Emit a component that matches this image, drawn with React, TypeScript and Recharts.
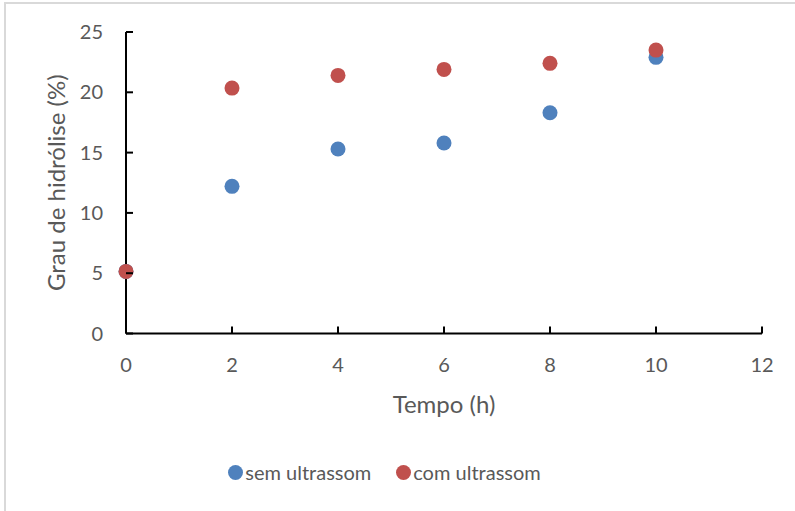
import { ScatterChart, Scatter, XAxis, YAxis, Legend } from "recharts";

const tempo = [0, 2, 4, 6, 8, 10];
const semUltrassom = [5.15, 12.2, 15.3, 15.8, 18.3, 22.9];
const comUltrassom = [5.15, 20.35, 21.4, 21.9, 22.4, 23.5];
const xTicks = [0, 2, 4, 6, 8, 10, 12];
const yTicks = [0, 5, 10, 15, 20, 25];

const semData = tempo.map((t, i) => ({ x: t, y: semUltrassom[i] }));
const comData = tempo.map((t, i) => ({ x: t, y: comUltrassom[i] }));

const FONT = "Lato, 'Open Sans', sans-serif";
const GREY = "#595959";
const BLUE = "#4F81BD";
const RED = "#C0504D";

const XTick = (props: any) => {
    const { x, y, payload } = props;
    return (
        <g>
            <line x1={x} y1={y} x2={x} y2={y - 7} stroke="#000" strokeWidth={2} />
            <text x={x} y={y + 38} textAnchor="middle" fill={GREY} fontSize={20} fontFamily={FONT}>
                {payload.value}
            </text>
        </g>
    );
};

const YTick = (props: any) => {
    const { x, y, payload } = props;
    return (
        <g>
            <line x1={x} y1={y} x2={x + 7} y2={y} stroke="#000" strokeWidth={2} />
            <text x={x - 23} y={y + 7} textAnchor="end" fill={GREY} fontSize={20} fontFamily={FONT}>
                {payload.value}
            </text>
        </g>
    );
};

const dot = (color: string) => (p: any) => <circle cx={p.cx} cy={p.cy} r={7.5} fill={color} />;

const LegendBox = () => (
    <div
        style={{
            display: "flex",
            justifyContent: "center",
            gap: 25,
            paddingRight: 26,
            fontFamily: FONT,
            fontSize: 20,
            color: GREY,
        }}
    >
        {[
            { name: "sem ultrassom", color: BLUE },
            { name: "com ultrassom", color: RED },
        ].map((s) => (
            <div key={s.name} style={{ display: "flex", alignItems: "center", gap: 2 }}>
                <span style={{ width: 15, height: 15, borderRadius: "50%", background: s.color, display: "inline-block" }} />
                <span>{s.name}</span>
            </div>
        ))}
    </div>
);

export default function App() {
    return (
        <div style={{ position: "absolute", left: 0, top: 0, width: 795, height: 511, background: "#fff" }}>
            <div
                style={{
                    position: "absolute",
                    left: 4,
                    top: 2,
                    width: 820,
                    height: 540,
                    borderLeft: "2px solid #d9d9d9",
                    borderTop: "2px solid #d9d9d9",
                }}
            />
            <ScatterChart width={795} height={511} margin={{ top: 32, right: 33, left: 26, bottom: 87.5 }}>
                <XAxis
                    type="number"
                    dataKey="x"
                    domain={[0, 12]}
                    ticks={xTicks}
                    interval={0}
                    height={90}
                    tickSize={0}
                    tickMargin={0}
                    tick={<XTick />}
                    axisLine={{ stroke: "#000", strokeWidth: 2 }}
                    label={{
                        value: "Tempo (h)",
                        position: "insideBottom",
                        offset: 11,
                        fill: GREY,
                        fontSize: 24,
                        fontFamily: FONT,
                    }}
                />
                <YAxis
                    type="number"
                    dataKey="y"
                    domain={[0, 25]}
                    ticks={yTicks}
                    interval={0}
                    width={100}
                    tickSize={0}
                    tickMargin={0}
                    tick={<YTick />}
                    axisLine={{ stroke: "#000", strokeWidth: 2 }}
                    label={{
                        value: "Grau de hidrólise (%)",
                        angle: -90,
                        position: "insideLeft",
                        offset: 30,
                        fill: GREY,
                        fontSize: 24,
                        fontFamily: FONT,
                        style: { textAnchor: "middle" },
                    }}
                />
                <Legend
                    layout="horizontal"
                    verticalAlign="middle"
                    align="center"
                    content={<LegendBox />}
                    wrapperStyle={{ top: 460, left: 0, width: 795 }}
                />
                <Scatter name="sem ultrassom" data={semData} fill={BLUE} shape={dot(BLUE)} isAnimationActive={false} />
                <Scatter name="com ultrassom" data={comData} fill={RED} shape={dot(RED)} isAnimationActive={false} />
            </ScatterChart>
        </div>
    );
}
